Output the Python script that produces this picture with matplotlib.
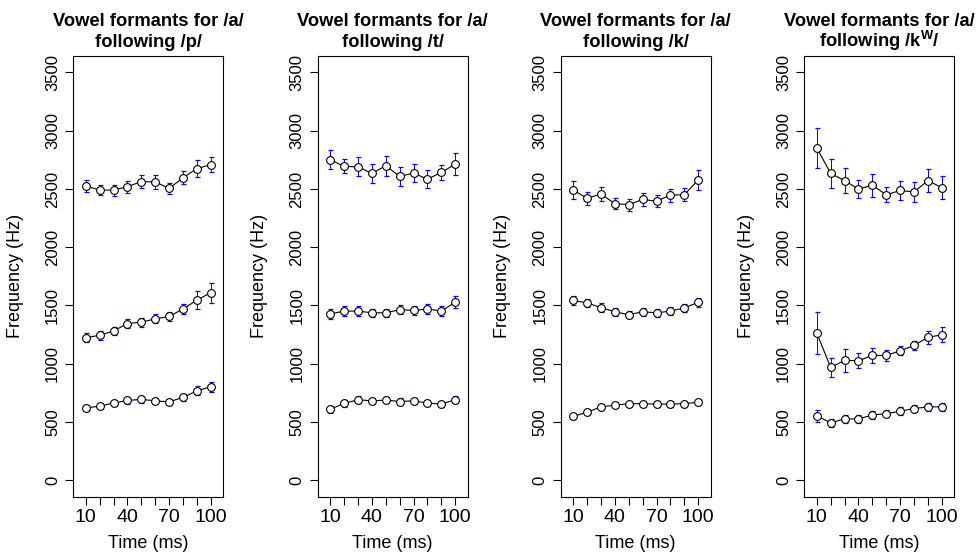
import matplotlib
matplotlib.use("Agg")
import matplotlib.pyplot as plt
import numpy as np

plt.rcParams['font.family'] = ['Liberation Sans', 'DejaVu Sans']
plt.rcParams['mathtext.default'] = 'regular'

time_ms = [10, 20, 30, 40, 50, 60, 70, 80, 90, 100]
tick_labels = ['10', '', '', '40', '', '', '70', '', '', '100']

title_top = 'Vowel formants for /a/'
title_bottom = ['following /p/', 'following /t/', 'following /k/',
                'following /k$^{W}$/']

#Formant means (Hz), one list per formant per consonant
p_f1 = [621, 636, 663, 685, 694, 682, 673, 712, 767, 803]
p_f2 = [1223, 1245, 1281, 1345, 1357, 1385, 1406, 1470, 1546, 1610]
p_f3 = [2526, 2490, 2490, 2520, 2563, 2560, 2505, 2596, 2675, 2709]
t_f1 = [609, 660, 691, 682, 688, 676, 682, 663, 654, 691]
t_f2 = [1427, 1452, 1452, 1437, 1437, 1464, 1458, 1470, 1452, 1528]
t_f3 = [2751, 2693, 2690, 2633, 2700, 2608, 2636, 2584, 2642, 2712]
k_f1 = [548, 584, 630, 645, 657, 657, 654, 654, 657, 670]
k_f2 = [1543, 1522, 1482, 1446, 1421, 1446, 1437, 1452, 1479, 1528]
k_f3 = [2490, 2420, 2456, 2374, 2365, 2410, 2395, 2447, 2450, 2578]
kw_f1 = [554, 493, 527, 527, 560, 572, 593, 615, 630, 630]
kw_f2 = [1263, 968, 1029, 1026, 1071, 1071, 1111, 1157, 1227, 1248]
kw_f3 = [2852, 2633, 2572, 2499, 2532, 2450, 2487, 2474, 2572, 2511]

#Error bar half-widths (Hz)
p_f1_err = [28, 28, 28, 28, 28, 28, 28, 32, 38, 42]
p_f2_err = [40, 38, 38, 38, 38, 38, 38, 45, 78, 85]
p_f3_err = [50, 45, 48, 52, 58, 58, 48, 55, 70, 65]
t_f1_err = [28, 28, 28, 28, 28, 28, 28, 28, 28, 32]
t_f2_err = [40, 40, 40, 36, 36, 40, 40, 45, 40, 50]
t_f3_err = [80, 60, 80, 80, 85, 83, 80, 80, 65, 95]
k_f1_err = [25, 25, 25, 25, 25, 25, 25, 25, 25, 25]
k_f2_err = [40, 36, 36, 32, 32, 36, 32, 36, 36, 40]
k_f3_err = [80, 55, 60, 45, 50, 55, 50, 55, 55, 85]
kw_f1_err = [50, 32, 32, 32, 32, 32, 32, 32, 32, 32]
kw_f2_err = [183, 85, 100, 65, 65, 45, 40, 40, 55, 65]
kw_f3_err = [170, 125, 107, 76, 100, 65, 84, 84, 96, 96]

panels = [
    [(p_f1, p_f1_err), (p_f2, p_f2_err), (p_f3, p_f3_err)],
    [(t_f1, t_f1_err), (t_f2, t_f2_err), (t_f3, t_f3_err)],
    [(k_f1, k_f1_err), (k_f2, k_f2_err), (k_f3, k_f3_err)],
    [(kw_f1, kw_f1_err), (kw_f2, kw_f2_err), (kw_f3, kw_f3_err)],
]

fig = plt.figure(figsize=(9.8, 5.57), dpi=100)
lefts = [73.3, 317.7, 560.7, 804.3]

for i in range(4):
    ax = fig.add_axes([lefts[i] / 980, 60.4 / 557, 150 / 980, 440.5 / 557])
    for vals, err in panels[i]:
        ax.errorbar(time_ms, vals, yerr=err, fmt='none', ecolor='#0000ff',
                    elinewidth=0.7, capsize=1.8, capthick=0.9, zorder=1)
        ax.plot(time_ms, vals, color='black', linewidth=0.8, zorder=2)
        ax.plot(time_ms, vals, linestyle='none', marker='o', markersize=5.6,
                markerfacecolor='white', markeredgecolor='black',
                markeredgewidth=0.8, zorder=3)

    ax.set_xlim(1, 109)
    ax.set_ylim(-140, 3640)
    ax.set_xticks(time_ms)
    ax.set_xticklabels(tick_labels)
    ax.set_yticks(np.arange(0, 3501, 500))
    ax.tick_params(axis='x', length=6, width=0.8, pad=3, labelsize=14)
    ax.tick_params(axis='y', length=6, width=0.8, pad=3.5, labelsize=12,
                   labelrotation=90)
    for lab in ax.get_yticklabels():
        lab.set_va('center')
    for sp in ax.spines.values():
        sp.set_linewidth(0.8)

    ax.set_xlabel('Time (ms)', fontsize=13)
    ax.set_ylabel('Frequency (Hz)', fontsize=13)
    ax.xaxis.set_label_coords(0.5, -0.088)
    ax.yaxis.set_label_coords(-0.33, 0.5)

    #two title lines on fixed baselines so the superscript does not shift them
    cx = (lefts[i] + 75) / 980
    fig.text(cx, 1 - 26.5 / 557, title_top, ha='center', va='baseline',
             fontsize=13.2, fontweight='bold')
    fig.text(cx, 1 - 46.5 / 557, title_bottom[i], ha='center', va='baseline',
             fontsize=13.2, fontweight='bold')

plt.savefig('out.png', dpi=100)
